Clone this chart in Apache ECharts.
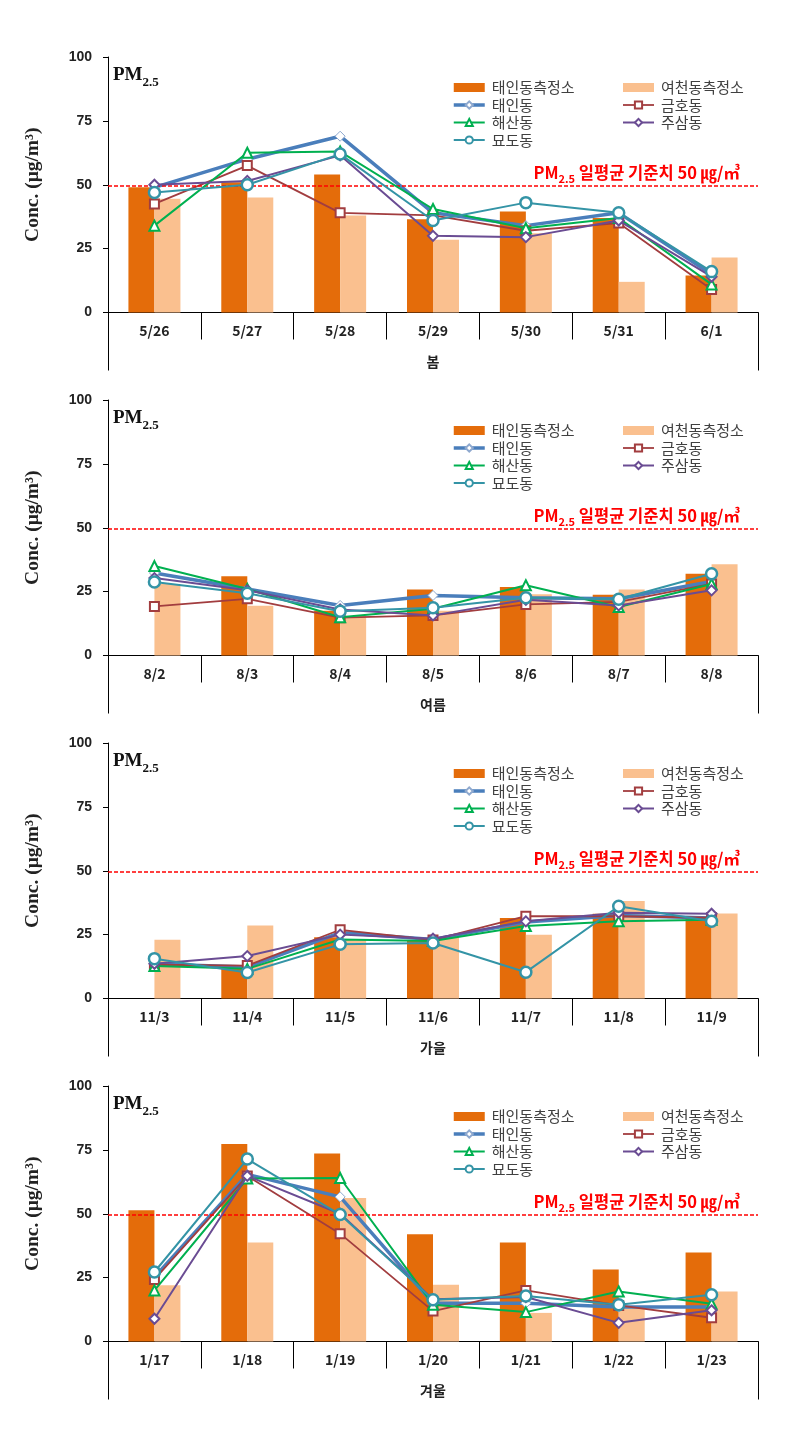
<!DOCTYPE html>
<html><head><meta charset="utf-8">
<script src="https://cdn.jsdelivr.net/npm/echarts@6/dist/echarts.min.js"></script>
<style>html,body{margin:0;padding:0;background:#fff}#c{width:800px;height:1436px}</style>
</head><body><div id="c"></div>
<script>
// ---- data ----
const seasons = ['봄', '여름', '가을', '겨울'];
const catSpring = ['5/26', '5/27', '5/28', '5/29', '5/30', '5/31', '6/1'];
const catSummer = ['8/2', '8/3', '8/4', '8/5', '8/6', '8/7', '8/8'];
const catAutumn = ['11/3', '11/4', '11/5', '11/6', '11/7', '11/8', '11/9'];
const catWinter = ['1/17', '1/18', '1/19', '1/20', '1/21', '1/22', '1/23'];
const yTicks = [0, 25, 50, 75, 100];
const standardValue = 49.5;

const springTaeinStation    = [49, 51, 54, 36.5, 39.5, 37, 14.5];
const springYeocheonStation = [44.5, 45, 38, 28.5, 31, 12, 21.5];
const springTaein  = [49, 60, 69, 39, 34, 39, 15];
const springGeumho = [42.5, 57.5, 39, 38, 32, 35, 9];
const springHaesan = [34, 62.5, 63, 40.5, 33, 37, 11];
const springJusam  = [50, 51.5, 61.5, 30, 29.5, 36, 14];
const springMyodo  = [47, 50, 62, 36, 43, 39, 16];

const summerTaeinStation    = [null, 31, 17.5, 25.8, 26.8, 23.8, 32];
const summerYeocheonStation = [28, 19.5, 15.5, 17.5, 24, 25.8, 35.7];
const summerTaein  = [32.3, 26, 19.6, 23.5, 22.6, 22.2, 29];
const summerGeumho = [19.2, 22.2, 14.8, 15.7, 20, 21, 28];
const summerHaesan = [35, 26, 15, 18.3, 27.5, 19, 28];
const summerJusam  = [30.3, 25.5, 18, 15.7, 21.8, 19.6, 25.5];
const summerMyodo  = [28.8, 24.4, 17.3, 18.7, 22.6, 22, 32];

const autumnTaeinStation    = [null, 11.6, 24, 22.5, 31.5, 33.2, 32];
const autumnYeocheonStation = [23, 28.6, 23, 24, 25, 38.2, 33.3];
const autumnTaein  = [13.5, 12.3, 25.8, 23.1, 29.9, 32.5, 31.5];
const autumnGeumho = [13.2, 12.9, 26.9, 22.9, 32.2, 32.2, 31.6];
const autumnHaesan = [12.7, 11.6, 23.1, 22.5, 28.4, 30.2, 30.8];
const autumnJusam  = [13.6, 16.6, 25, 23.4, 30.2, 33.6, 33.2];
const autumnMyodo  = [15.6, 10.2, 21.2, 21.7, 10.3, 36.1, 30.2];

const winterTaeinStation    = [51.4, 77.3, 73.6, 42, 38.7, 28.2, 34.8];
const winterYeocheonStation = [22, 38.7, 56.2, 22.2, 11.2, 13, 19.6];
const winterTaein  = [25.2, 65.4, 56.6, 15, 15, 13.5, 13.5];
const winterGeumho = [24.3, 64.8, 42.2, 11.9, 20, 14.1, 9.3];
const winterHaesan = [20, 63.8, 64, 14.4, 11.5, 19.6, 14.8];
const winterJusam  = [8.9, 64.8, 50, 16.5, 17.4, 7.3, 12.2];
const winterMyodo  = [27.2, 71.4, 49.7, 16.3, 17.8, 14.4, 18.3];

const barNames = ['태인동측정소', '여천동측정소'];
const lineNames = ['태인동', '금호동', '해산동', '주삼동', '묘도동'];

// ---- build ----
const panels = [
  {cats: catSpring, bars: [springTaeinStation, springYeocheonStation], lines: [springTaein, springGeumho, springHaesan, springJusam, springMyodo]},
  {cats: catSummer, bars: [summerTaeinStation, summerYeocheonStation], lines: [summerTaein, summerGeumho, summerHaesan, summerJusam, summerMyodo]},
  {cats: catAutumn, bars: [autumnTaeinStation, autumnYeocheonStation], lines: [autumnTaein, autumnGeumho, autumnHaesan, autumnJusam, autumnMyodo]},
  {cats: catWinter, bars: [winterTaeinStation, winterYeocheonStation], lines: [winterTaein, winterGeumho, winterHaesan, winterJusam, winterMyodo]}
];
const barColors = ['#E46C0A', '#FAC08F'];
const lineStyles = [
  {color: '#4A7EBB', width: 3.5, symbol: 'diamond', size: 10, border: '#8FA9CF', bw: 1},
  {color: '#A23D3F', width: 1.8, symbol: 'rect', size: 9, border: '#A23D3F', bw: 2},
  {color: '#00B050', width: 2, symbol: 'triangle', size: 10, border: '#00B050', bw: 2},
  {color: '#6A4C93', width: 2, symbol: 'diamond', size: 10, border: '#6A4C93', bw: 2},
  {color: '#3494A6', width: 2, symbol: 'circle', size: 11, border: '#3494A6', bw: 2.5}
];
const KR = '"Noto Sans CJK KR", "Noto Sans", sans-serif';
const grids = [], xAxes = [], yAxes = [], series = [], legends = [], titles = [];
const tops = [57, 400, 743, 1086];
const H = 255.5;

panels.forEach((p, i) => {
  const top = tops[i];
  grids.push({left: 108, right: 42, top: top, height: H});
  xAxes.push({
    type: 'category', gridIndex: i, data: p.cats, position: 'bottom',
    axisLine: {lineStyle: {color: '#000', width: 1}},
    axisTick: {show: true, length: 27, interval: 0, lineStyle: {color: '#000'}},
    axisLabel: {margin: 11, fontFamily: KR, fontWeight: 'bold', fontSize: 14, color: '#222', interval: 0}
  });
  xAxes.push({
    type: 'category', gridIndex: i, data: [seasons[i]], position: 'bottom',
    axisLine: {show: false},
    axisTick: {show: true, length: 58, lineStyle: {color: '#000'}},
    axisLabel: {margin: 42, fontFamily: KR, fontWeight: 'bold', fontSize: 14, color: '#222'}
  });
  yAxes.push({
    type: 'value', gridIndex: i, min: yTicks[0], max: yTicks[yTicks.length - 1], interval: 25,
    name: 'Conc. (μg/m³)', nameLocation: 'middle', nameGap: 65,
    nameTextStyle: {fontFamily: '"Liberation Serif", serif', fontSize: 19.5, fontWeight: 'bold', color: '#222'},
    axisLine: {show: true, lineStyle: {color: '#000'}},
    axisTick: {show: true, length: 5, lineStyle: {color: '#000'}},
    splitLine: {show: false},
    axisLabel: {margin: 16, fontFamily: '"Liberation Sans", Arial, sans-serif', fontWeight: 'bold', fontSize: 14, color: '#222'}
  });
  titles.push({
    text: '{a|PM}{b|2.5}', left: 113, top: top + 8, padding: 0,
    textStyle: {rich: {
      a: {fontFamily: '"Liberation Serif", serif', fontWeight: 'bold', fontSize: 19, color: '#111', verticalAlign: 'bottom', lineHeight: 20},
      b: {fontFamily: '"Liberation Serif", serif', fontWeight: 'bold', fontSize: 13, color: '#111', verticalAlign: 'bottom', lineHeight: 20, padding: [0, 0, -4, 0]}
    }}
  });
  p.bars.forEach((d, k) => {
    const s = {
      name: barNames[k], type: 'bar', xAxisIndex: i * 2, yAxisIndex: i, data: d,
      barWidth: 26, barGap: '0%', itemStyle: {color: barColors[k]}, z: 1
    };
    if (k === 0) {
      s.markLine = {
        silent: true, symbol: 'none', animation: false,
        lineStyle: {color: '#FF0000', type: [4, 2], width: 1.5},
        data: [{yAxis: standardValue}],
        label: {
          show: true, position: 'insideEndTop', distance: [18, 5],
          formatter: '{a|PM}{b|2.5}{a| 일평균 기준치 50 ㎍/㎥}',
          rich: {
            a: {fontFamily: KR, fontWeight: 'bold', fontSize: 16.5, color: '#FF0000', verticalAlign: 'bottom', lineHeight: 18},
            b: {fontFamily: KR, fontWeight: 'bold', fontSize: 11, color: '#FF0000', verticalAlign: 'bottom', lineHeight: 18, padding: [0, 0, -3, 0]}
          }
        }
      };
    }
    series.push(s);
  });
  p.lines.forEach((d, k) => {
    const st = lineStyles[k];
    series.push({
      name: lineNames[k], type: 'line', xAxisIndex: i * 2, yAxisIndex: i, data: d,
      symbol: st.symbol, symbolSize: st.size, showAllSymbol: true,
      lineStyle: {color: st.color, width: st.width},
      itemStyle: {color: '#fff', borderColor: st.border, borderWidth: st.bw},
      z: 3 + k, animation: false
    });
  });
  const legCommon = {
    orient: 'vertical', top: top + 23, itemWidth: 31, itemHeight: 9, itemGap: 2.5,
    padding: 0,
    lineStyle: {width: 'inherit'},
    textStyle: {fontFamily: KR, fontSize: 15, color: '#404040', lineHeight: 15, padding: [0, 0, 0, 2]},
    selectedMode: false
  };
  legends.push(Object.assign({}, legCommon, {left: 452, data: [
    {name: '태인동측정소', icon: 'rect'}, '태인동', '해산동', '묘도동']}));
  legends.push(Object.assign({}, legCommon, {left: 622, data: [
    {name: '여천동측정소', icon: 'rect'}, '금호동', '주삼동']}));
});

const chart = echarts.init(document.getElementById('c'), null, {renderer: 'canvas'});
chart.setOption({
  animation: false,
  backgroundColor: '#fff',
  title: titles, grid: grids, xAxis: xAxes, yAxis: yAxes, legend: legends, series: series
});
</script></body></html>
